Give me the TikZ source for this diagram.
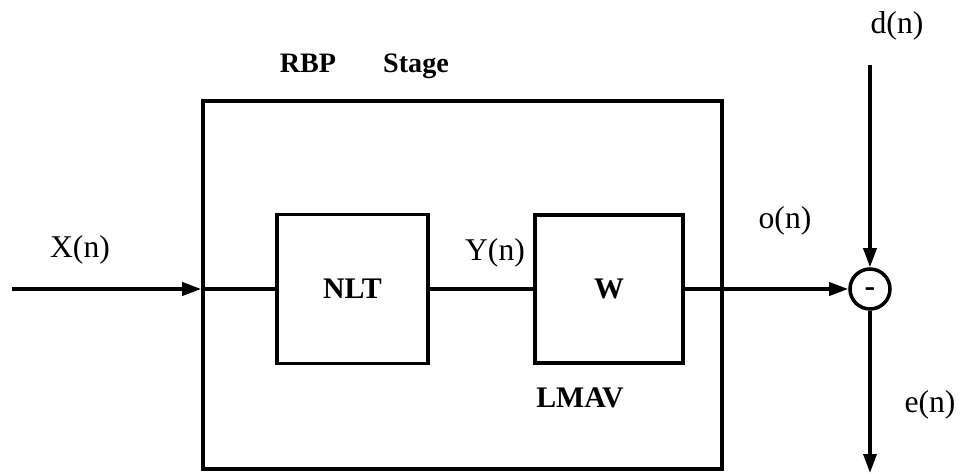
\documentclass[tikz,border=0pt]{standalone}
\usepackage{fontspec}
\setmainfont{Liberation Serif}
\usetikzlibrary{arrows.meta}

\tikzset{
    bloc/.style={draw, line width=2pt, inner sep=0pt},
    fleche/.style={line width=2pt, -{Triangle[length=3.8mm,width=2.6mm]}},
    lien/.style={line width=2pt},
    etiq/.style={anchor=base, font=\fontsize{18}{21}\selectfont},
}

\begin{document}
\begin{tikzpicture}[x=0.2mm, y=-0.2mm]
        \useasboundingbox (0,0) rectangle (965,474);

        % Etage RBP
        \node[bloc, minimum width=10.38cm, minimum height=7.36cm] (rbp) at (462.5,285) {};
        \node[anchor=base, font=\fontsize{16}{19}\selectfont\bfseries] (titre) at (308,72) {RBP};
        \node[anchor=base, font=\fontsize{16}{19}\selectfont\bfseries] (titre2) at (416,72) {Stage};

        % Blocs internes
        \node[bloc, minimum width=3.02cm, minimum height=2.98cm,
              font=\fontsize{17}{20}\selectfont\bfseries] (nlt) at (352.5,289) {NLT};
        \node[bloc, minimum width=2.96cm, minimum height=2.96cm,
              font=\fontsize{17}{20}\selectfont\bfseries] (w) at (609,289) {W};
        \node[etiq, font=\fontsize{17}{20}\selectfont\bfseries] (lmav) at (580,407) {LMAV};

        % Sommateur
        \node[draw, circle, line width=2pt, minimum size=0.8cm, inner sep=0pt,
              font=\fontsize{18}{21}\selectfont\bfseries] (som) at (870,289) {\raisebox{-4.5pt}[0pt][0pt]{-}};

        \coordinate (entree) at (12,289);
        \coordinate (haut) at (870,65);
        \coordinate (bas) at (870,473);

        % Liaisons
        \draw[fleche] (entree) -- (entree -| rbp.west);
        \draw[lien] (entree -| rbp.west) -- (nlt.west);
        \draw[lien] (nlt.east) -- (w.west);
        \draw[fleche] (w.east) -- (som.west);
        \draw[fleche] (haut) -- (som.north);
        \draw[fleche] (som.south) -- (bas);

        % Signaux
        \node[etiq] (x) at (80,257) {X(n)};
        \node[etiq] (y) at (495,260) {Y(n)};
        \node[etiq] (o) at (785,228) {o(n)};
        \node[etiq] (d) at (897,33) {d(n)};
        \node[etiq] (e) at (930,412) {e(n)};
    \end{tikzpicture}
\end{document}
